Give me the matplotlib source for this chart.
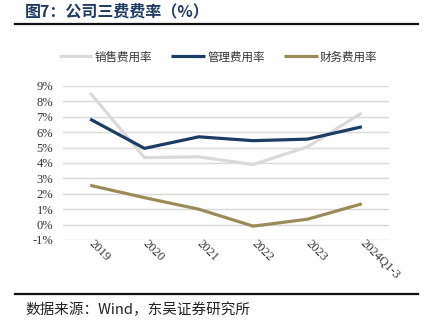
import matplotlib
matplotlib.use("Agg")
import matplotlib.pyplot as plt
from matplotlib.lines import Line2D

# Expense ratios, %
years = ["2019", "2020", "2021", "2022", "2023", "2024Q1-3"]
sales_ratio = [8.55, 4.35, 4.40, 3.90, 5.05, 7.25]
admin_ratio = [6.85, 4.95, 5.70, 5.45, 5.55, 6.35]
finance_ratio = [2.55, 1.75, 1.00, -0.10, 0.35, 1.35]
series_names = ["销售费用率", "管理费用率", "财务费用率"]
colors = ["#DADADA", "#1C3D63", "#9A8C58"]
yticks = list(range(-1, 10))

cjk = ["Noto Sans CJK SC", "DejaVu Sans"]
serif = ["Liberation Serif", "DejaVu Serif"]

fig = plt.figure(figsize=(4.27, 3.33), dpi=100)
fig.patch.set_facecolor("white")

# title and rules
fig.text(25 / 427, 1 - 11 / 333, "图7：公司三费费率（%）", family=cjk, fontsize=11.5,
         fontweight="bold", color="#1F3A63", va="center", ha="left")
fig.add_artist(Line2D([15 / 427, 418 / 427], [1 - 24 / 333] * 2, color="#111111", lw=1.6))
fig.add_artist(Line2D([15 / 427, 418 / 427], [1 - 294 / 333] * 2, color="#111111", lw=1.6))
fig.text(25 / 427, 1 - 310 / 333, "数据来源：Wind，东吴证券研究所", family=cjk, fontsize=10.5,
         color="#222222", va="center", ha="left")

ax = fig.add_axes([63 / 427, 1 - 240 / 333, 326 / 427, 154 / 333])
x = range(len(years))
for vals, name, c in zip([sales_ratio, admin_ratio, finance_ratio], series_names, colors):
    ax.plot(x, vals, color=c, lw=2.3, label=name, solid_capstyle="butt", zorder=3)

ax.set_xlim(-0.5, len(years) - 0.5)
ax.set_ylim(-1, 9)
ax.set_yticks(yticks)
ax.set_yticklabels([f"{v}%" for v in yticks], family=serif, fontsize=9, color="#333333")
ax.set_xticks(list(x))
ax.set_xticklabels(years, family=serif, fontsize=9, color="#333333",
                   rotation=-45, ha="left", va="center", rotation_mode="anchor")
ax.tick_params(axis="y", length=0, pad=7)
ax.tick_params(axis="x", length=0, pad=1)
ax.grid(axis="y", color="#D9D9D9", lw=1)
ax.set_axisbelow(True)
for s in ax.spines.values():
    s.set_visible(False)

leg = fig.legend(loc="center", bbox_to_anchor=(218 / 427, 1 - 57 / 333), ncol=3, frameon=False,
                 prop={"family": cjk, "size": 8.3}, handlelength=2.9, handletextpad=0.2,
                 columnspacing=1.7)
for t in leg.get_texts():
    t.set_color("#333333")

fig.savefig("out.png", dpi=100)
